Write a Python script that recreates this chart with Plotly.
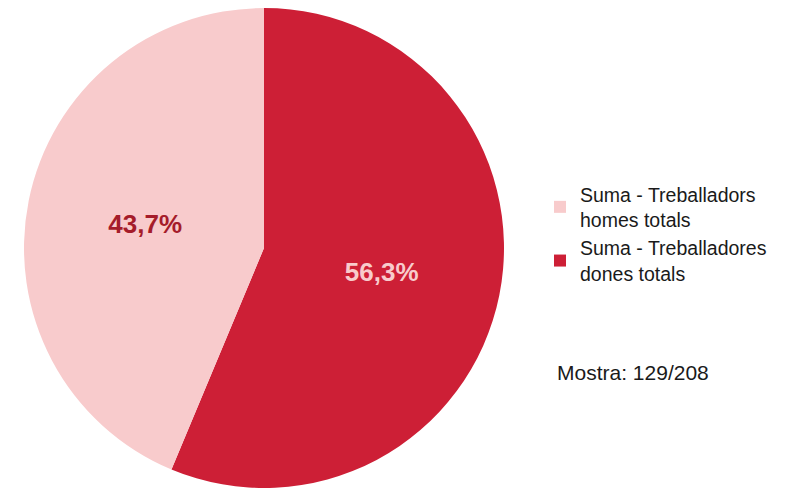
import plotly.graph_objects as go

# data listed in drawing order (clockwise from 12 o'clock); legend shown reversed
labels = ["Suma - Treballadores<br>dones totals", "Suma - Treballadors<br>homes totals"]
values = [56.3, 43.7]
colors = ["#CD1F36", "#F8CBCC"]
text_colors = ["#F8CBCC", "#A51C2A"]
sample_note = "Mostra: 129/208"

W, H = 789, 488
OFF = 8  # browser body margin
fig = go.Figure(go.Pie(
    labels=labels,
    values=values,
    sort=False,
    direction="clockwise",
    rotation=0,
    marker=dict(colors=colors, line=dict(width=0)),
    texttemplate="<b>%{percent:.1%}</b>",
    textposition="inside",
    insidetextorientation="horizontal",
    textfont=dict(family="Liberation Sans, Arial, sans-serif", size=26, color=text_colors),
    hoverinfo="label+percent",
    domain=dict(x=[(24 - OFF) / W, (504 - OFF) / W], y=[8 / H, 1]),
))

fig.update_layout(
    width=W, height=H,
    margin=dict(l=0, r=0, t=0, b=0),
    paper_bgcolor="white",
    plot_bgcolor="white",
    separators=",.",
    font=dict(family="Liberation Sans, Arial, sans-serif", size=19.5, color="#1a1a1a"),
    legend=dict(
        x=(540 - OFF) / W, y=1 - (175 - OFF) / H, xanchor="left", yanchor="top",
        font=dict(size=19.5, color="#1a1a1a"),
        itemsizing="constant",
        tracegroupgap=0,
        traceorder="reversed",
    ),
    annotations=[dict(
        text=sample_note, x=(555 - OFF) / W, y=1 - (372 - OFF) / H, xref="paper", yref="paper",
        xanchor="left", yanchor="middle", showarrow=False,
        font=dict(size=21, color="#1a1a1a"),
    )],
)

fig.write_html("out.html")
